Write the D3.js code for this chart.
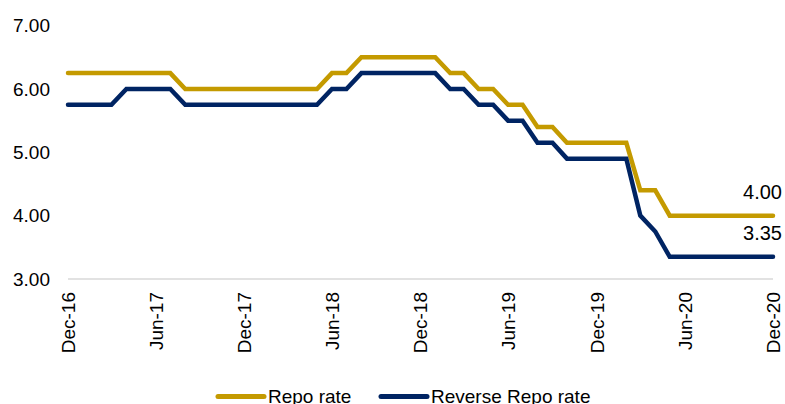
<!DOCTYPE html>
<html>
<head>
<meta charset="utf-8">
<script src="https://cdn.jsdelivr.net/npm/d3@7"></script>
<style>
  body { margin: 0; background: #fff; }
  svg { display: block; font-family: "Liberation Sans", Arial, sans-serif; }
</style>
</head>
<body>
<div id="chart"></div>
<script>
// monthly policy rates, Dec-16 .. Dec-20
const startMonth = new Date(2016, 11, 1);
const endMonth = new Date(2020, 11, 1);

const repoRate = [
  6.25, 6.25, 6.25, 6.25, 6.25, 6.25, 6.25, 6.25,
  6.00, 6.00, 6.00, 6.00, 6.00, 6.00, 6.00, 6.00, 6.00, 6.00,
  6.25, 6.25,
  6.50, 6.50, 6.50, 6.50, 6.50, 6.50,
  6.25, 6.25, 6.00, 6.00, 5.75, 5.75, 5.40, 5.40,
  5.15, 5.15, 5.15, 5.15, 5.15,
  4.40, 4.40,
  4.00, 4.00, 4.00, 4.00, 4.00, 4.00, 4.00, 4.00
];

const reverseRepoRate = [
  5.75, 5.75, 5.75, 5.75,
  6.00, 6.00, 6.00, 6.00,
  5.75, 5.75, 5.75, 5.75, 5.75, 5.75, 5.75, 5.75, 5.75, 5.75,
  6.00, 6.00,
  6.25, 6.25, 6.25, 6.25, 6.25, 6.25,
  6.00, 6.00, 5.75, 5.75, 5.50, 5.50, 5.15, 5.15,
  4.90, 4.90, 4.90, 4.90, 4.90,
  4.00, 3.75,
  3.35, 3.35, 3.35, 3.35, 3.35, 3.35, 3.35, 3.35
];

const yTicks = [3, 4, 5, 6, 7];
const seriesNames = ['Repo rate', 'Reverse Repo rate'];
const seriesColors = ['#C49A00', '#002463'];

const months = d3.timeMonth.range(startMonth, d3.timeMonth.offset(endMonth, 1));
const series = [repoRate, reverseRepoRate].map((vals, i) => ({
  name: seriesNames[i],
  color: seriesColors[i],
  values: vals.map((v, j) => ({ date: months[j], value: v }))
}));

const width = 785;
const height = 404;

const svg = d3.select('#chart')
  .append('svg')
  .attr('width', width)
  .attr('height', height);

const x = d3.scaleTime().domain([startMonth, endMonth]).range([68, 773]);
const y = d3.scaleLinear().domain([3, 7]).range([279, 25.6]);

// baseline
svg.append('line')
  .attr('x1', x.range()[0])
  .attr('x2', x.range()[1])
  .attr('y1', y(3))
  .attr('y2', y(3))
  .attr('stroke', '#d9d9d9')
  .attr('stroke-width', 1.5);

// y axis labels
const yAxis = svg.append('g')
  .attr('transform', 'translate(50,0)')
  .call(d3.axisLeft(y).tickValues(yTicks).tickFormat(d3.format('.2f')).tickSize(0).tickPadding(0));
yAxis.select('.domain').remove();
yAxis.selectAll('text')
  .attr('font-size', 19)
  .attr('fill', '#000')
  .attr('font-family', '"Liberation Sans", Arial, sans-serif');

// x axis labels, every 6 months starting Dec-16
const xTicks = d3.timeMonth.range(startMonth, d3.timeMonth.offset(endMonth, 1), 6);
const xAxis = svg.append('g')
  .attr('transform', 'translate(0,' + 292 + ')')
  .call(d3.axisBottom(x).tickValues(xTicks).tickFormat(d3.timeFormat('%b-%y')).tickSize(0).tickPadding(0));
xAxis.select('.domain').remove();
xAxis.selectAll('text')
  .attr('font-size', 19)
  .attr('fill', '#000')
  .attr('font-family', '"Liberation Sans", Arial, sans-serif')
  .attr('text-anchor', 'end')
  .attr('dy', '0.35em')
  .attr('y', 0)
  .attr('x', 0)
  .attr('transform', 'rotate(-90)');

const line = d3.line()
  .x((d) => x(d.date))
  .y((d) => y(d.value));

svg.append('g')
  .selectAll('path')
  .data(series)
  .enter()
  .append('path')
  .attr('d', (d) => line(d.values))
  .attr('fill', 'none')
  .attr('stroke', (d) => d.color)
  .attr('stroke-width', 4.5)
  .attr('stroke-linecap', 'round');

// end value labels
svg.append('g')
  .selectAll('text')
  .data(series)
  .enter()
  .append('text')
  .attr('x', 782)
  .attr('y', (d) => y(d.values[d.values.length - 1].value) - 17)
  .attr('text-anchor', 'end')
  .attr('font-size', 20)
  .attr('fill', '#000')
  .text((d) => d3.format('.2f')(d.values[d.values.length - 1].value));

// legend
const legendX = [218, 381];
const legend = svg.append('g')
  .selectAll('.legends')
  .data(series)
  .enter()
  .append('g')
  .classed('legends', true)
  .attr('transform', (d, i) => 'translate(' + legendX[i] + ',396.5)');

legend.append('line')
  .attr('x1', 0)
  .attr('x2', 46)
  .attr('stroke', (d) => d.color)
  .attr('stroke-width', 5)
  .attr('stroke-linecap', 'round');

legend.append('text')
  .attr('x', 50)
  .attr('y', 6)
  .attr('font-size', 19)
  .attr('fill', '#000')
  .text((d) => d.name);
</script>
</body>
</html>
